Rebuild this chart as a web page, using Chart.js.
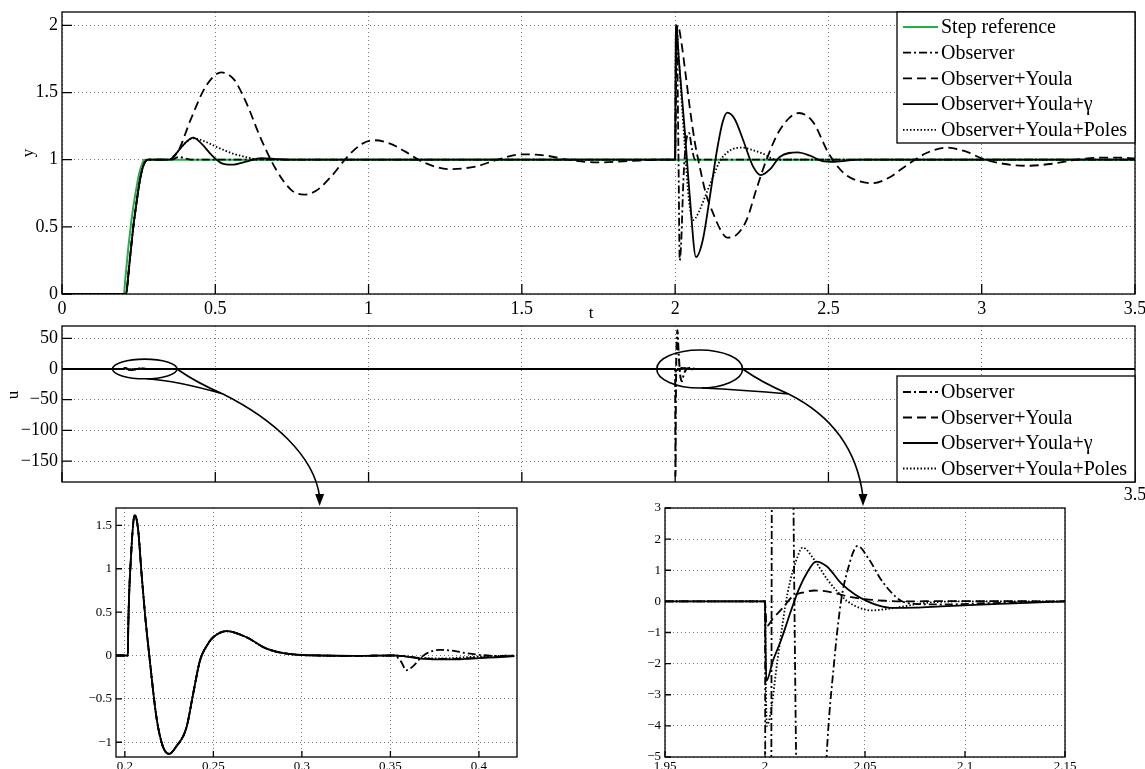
<!DOCTYPE html>
<html lang="en">
<head>
<meta charset="UTF-8">
<title>Step response and control effort</title>
<script src="https://cdn.jsdelivr.net/npm/chart.js@4.4.0/dist/chart.umd.min.js"></script>
<style>
  body { margin: 0; background: #fff; }
  #wrap { position: relative; width: 1145px; height: 769px; overflow: hidden; background: #fff; }
  canvas { position: absolute; }
  .lbl { position: absolute; font-family: "Liberation Serif", serif; font-size: 17px; color: #000;
         transform: translate(-50%, -50%); white-space: nowrap; }
</style>
</head>
<body>
<div id="wrap">
  <canvas id="cTop" width="1145" height="320" style="left:0;top:0"></canvas>
  <canvas id="cMid" width="1145" height="186" style="left:0;top:320px"></canvas>
  <canvas id="cA" width="470" height="269" style="left:60px;top:500px"></canvas>
  <canvas id="cB" width="535" height="269" style="left:610px;top:500px"></canvas>
  <canvas id="ov" width="1145" height="769" style="left:0;top:0;pointer-events:none"></canvas>
  <div class="lbl" style="left:591px;top:313px">t</div>
  <div class="lbl" style="left:28px;top:153px;transform:translate(-50%,-50%) rotate(-90deg)">y</div>
  <div class="lbl" style="left:13px;top:395px;transform:translate(-50%,-50%) rotate(-90deg)">u</div>
</div>

<script>
// ticks
const xTicksTop = [0, 0.5, 1, 1.5, 2, 2.5, 3, 3.5];
const yTicksTop = [0, 0.5, 1, 1.5, 2];
const yTicksMid = [-150, -100, -50, 0, 50];
const xLabelsMid = ['', '', '', '', '', '', '', '3.5'];
const xTicksA = [0.2, 0.25, 0.3, 0.35, 0.4];
const yTicksA = [-1, -0.5, 0, 0.5, 1, 1.5];
const xTicksB = [1.95, 2, 2.05, 2.1, 2.15];
const yTicksB = [-5, -4, -3, -2, -1, 0, 1, 2, 3];

const names = ['Step reference', 'Observer', 'Observer+Youla', 'Observer+Youla+\u03b3', 'Observer+Youla+Poles'];

// top plot: output y(t)
const tRef = [0, 0.202, 0.206, 0.211, 0.217, 0.224, 0.232, 0.2435, 0.252, 0.26, 0.268, 3.5];
const yRef = [0, 0, 0.1, 0.22, 0.36, 0.5, 0.64, 0.8, 0.9, 0.96, 1, 1];

// rise shared by the four controllers
const tRise = [0, 0.209, 0.213, 0.218, 0.225, 0.2326, 0.24, 0.248, 0.2543, 0.262, 0.27, 0.281];
const yRise = [0, 0, 0.06, 0.18, 0.34, 0.5, 0.63, 0.76, 0.85, 0.93, 0.98, 1];

const tObsEnd = [0.35, 0.365, 0.38, 0.395, 0.41, 0.43, 2.0, 2.002, 2.004, 2.007, 2.011, 2.015, 2.02, 2.027, 2.035, 2.045, 2.055, 2.065, 2.08, 3.5];
const yObsEnd = [1, 1.005, 1.02, 1.015, 1.005, 1, 1, 1.7, 2.0, 1.75, 1.0, 0.25, 0.4, 0.85, 1.12, 1.2, 1.08, 1.0, 1.0, 1];

const tYouEnd = [0.35, 0.38, 0.42, 0.47, 0.52, 0.56, 0.6, 0.65, 0.7, 0.75, 0.79, 0.83, 0.88, 0.93, 0.98, 1.02, 1.07, 1.12, 1.18, 1.265,
                 1.35, 1.42, 1.5, 1.58, 1.65, 1.745, 1.85, 1.95, 2.0, 2.004, 2.009, 2.02, 2.035, 2.05, 2.065, 2.08, 2.1, 2.124, 2.15, 2.17,
                 2.2, 2.233, 2.265, 2.298, 2.341, 2.404, 2.45, 2.5, 2.55, 2.6, 2.645, 2.7, 2.75, 2.82, 2.885, 2.95, 3.0, 3.07, 3.15, 3.23,
                 3.31, 3.38, 3.45, 3.5];
const yYouEnd = [1, 1.07, 1.3, 1.55, 1.65, 1.6, 1.43, 1.15, 0.92, 0.77, 0.74, 0.77, 0.88, 1.02, 1.12, 1.145, 1.12, 1.06, 0.98, 0.93,
                 0.95, 1.0, 1.04, 1.03, 1.0, 0.98, 0.99, 1.0, 1.0, 1.8, 2.0, 1.88, 1.62, 1.35, 1.12, 0.95, 0.75, 0.6, 0.47, 0.42,
                 0.44, 0.55, 0.78, 1.0, 1.22, 1.348, 1.28, 1.05, 0.9, 0.84, 0.825, 0.87, 0.95, 1.05, 1.09, 1.06, 1.01, 0.97, 0.955, 0.97,
                 1.0, 1.015, 1.015, 1.01];

const tGamEnd = [0.35, 0.37, 0.4, 0.428, 0.455, 0.49, 0.52, 0.555, 0.6, 0.65, 0.7, 0.75, 2.0, 2.002, 2.004, 2.012, 2.032, 2.048, 2.068, 2.09,
                 2.113, 2.135, 2.155, 2.17, 2.195, 2.222, 2.254, 2.28, 2.31, 2.341, 2.4, 2.44, 2.48, 2.52, 2.6, 3.5];
const yGamEnd = [1, 1.04, 1.12, 1.165, 1.12, 1.03, 0.975, 0.963, 0.985, 1.012, 1.005, 1, 1, 1.9, 2.0, 1.75, 1.2, 0.72, 0.275, 0.4,
                 0.72, 1.05, 1.28, 1.35, 1.3, 1.145, 0.95, 0.885, 0.93, 1.02, 1.055, 1.03, 0.99, 0.985, 1, 1];

const tPolEnd = [0.35, 0.37, 0.4, 0.428, 0.45, 0.472, 0.5, 0.53, 0.558, 0.6, 0.646, 2.0, 2.002, 2.004, 2.012, 2.03, 2.045, 2.059, 2.075, 2.102,
                 2.125, 2.146, 2.18, 2.22, 2.255, 2.286, 2.33, 2.4, 3.5];
const yPolEnd = [1, 1.04, 1.12, 1.16, 1.15, 1.13, 1.1, 1.07, 1.045, 1.02, 1.0, 1, 1.9, 2.0, 1.75, 1.15, 0.7, 0.55, 0.6, 0.75,
                 0.88, 0.99, 1.07, 1.09, 1.07, 1.045, 1.0, 1.0, 1];

// control u(t), window around the step (0.195 - 0.42)
const tA = [0.195, 0.2017, 0.2019, 0.2035, 0.2056, 0.2075, 0.2094, 0.2115, 0.2138, 0.2179, 0.2215, 0.225, 0.229, 0.2348, 0.2385,
            0.2424, 0.2465, 0.2499, 0.2574, 0.2687, 0.28, 0.2951, 0.31, 0.33, 0.352];
const uA = [0, 0, 0.3, 1.15, 1.62, 1.45, 0.95, 0.45, 0, -0.72, -1.05, -1.134, -1.05, -0.83, -0.45,
            -0.06, 0.12, 0.21, 0.28, 0.21, 0.08, 0.012, 0, -0.005, 0];
const tTailA = [0.356, 0.359, 0.363, 0.367, 0.371, 0.378, 0.385, 0.392, 0.4, 0.41, 0.42];
const uObsTailA = [-0.07, -0.17, -0.12, -0.03, 0.03, 0.065, 0.055, 0.03, 0.008, -0.005, 0];
const uYouTailA = [-0.005, -0.01, -0.02, -0.03, -0.035, -0.04, -0.04, -0.035, -0.025, -0.015, -0.005];
const uGamTailA = [-0.005, -0.012, -0.025, -0.035, -0.04, -0.045, -0.045, -0.04, -0.03, -0.02, -0.008];
const uPolTailA = [-0.005, -0.01, -0.02, -0.028, -0.032, -0.035, -0.03, -0.02, -0.012, -0.005, 0];

// control u(t), window around the disturbance (1.95 - 2.15)
const tObsB = [1.95, 2.0, 2.0004, 2.0012, 2.0022, 2.0033, 2.0055, 2.0075, 2.0105, 2.0147, 2.018, 2.022, 2.026, 2.0308, 2.0345,
               2.038, 2.0413, 2.0463, 2.052, 2.058, 2.063, 2.068, 2.075, 2.09, 2.11, 2.15];
const uObsB = [0, 0, -40, -175, -60, 0, 50, 63, 35, 0, -15, -20, -13, -5, -2,
               0, 1.0, 1.78, 1.35, 0.7, 0.3, 0.02, -0.08, -0.1, -0.06, 0];
const tYouB = [1.95, 2.0, 2.0008, 2.004, 2.009, 2.0138, 2.02, 2.0247, 2.03, 2.036, 2.042, 2.05, 2.06, 2.07, 2.09, 2.15];
const uYouB = [0, 0, -0.8, -0.55, -0.2, 0.16, 0.3, 0.35, 0.33, 0.25, 0.15, 0.07, 0.02, 0, 0.01, 0];
const tGamB = [1.95, 2.0, 2.0003, 2.0007, 2.004, 2.008, 2.013, 2.017, 2.0213, 2.0255, 2.031, 2.038, 2.045, 2.0513, 2.057,
               2.063, 2.075, 2.088, 2.105, 2.121, 2.15];
const uGamB = [0, 0, -1.5, -2.55, -1.9, -1.25, -0.3, 0.4, 0.95, 1.28, 1.12, 0.585, 0.22, 0, -0.14,
               -0.21, -0.2, -0.16, -0.11, -0.07, 0];
const tPolB = [1.95, 2.0, 2.0004, 2.0009, 2.003, 2.0063, 2.0113, 2.0163, 2.0188, 2.0247, 2.0313, 2.0413, 2.047, 2.053, 2.0647, 2.08, 2.1, 2.15];
const uPolB = [0, 0, -2.5, -4.0, -3.5, -1.86, 0.27, 1.44, 1.73, 1.33, 0.69, 0, -0.2, -0.29, -0.21, -0.05, 0, 0];

const serif = '"Liberation Serif", "Times New Roman", serif';
const green = '#22b04b';
const styles = [
  { color: green, dash: [] },
  { color: '#000', dash: [8, 3, 2, 3] },
  { color: '#000', dash: [9, 5] },
  { color: '#000', dash: [] },
  { color: '#000', dash: [1.5, 2] }
];

function pts(ts, ys) { return ts.map((t, i) => ({ x: t, y: ys[i] })); }
function fmt(v) { return (v < 0 ? '\u2212' : '') + Math.abs(v); }

function line(i, data, w) {
  return {
    label: names[i], data: data, borderColor: styles[i].color, borderDash: styles[i].dash,
    borderWidth: w, pointRadius: 0, fill: false, cubicInterpolationMode: 'monotone',
    order: i === 0 ? 1 : 0
  };
}

const framePlugin = {
  id: 'frame',
  afterDatasetsDraw(chart, args, o) {
    const { ctx, chartArea: a, scales } = chart;
    ctx.save();
    ctx.strokeStyle = '#000';
    ctx.lineWidth = o.lw;
    ctx.setLineDash([]);
    ctx.beginPath();
    scales.x.ticks.forEach(t => {
      const x = scales.x.getPixelForValue(t.value);
      ctx.moveTo(x, a.bottom); ctx.lineTo(x, a.bottom - o.len);
    });
    scales.y.ticks.forEach(t => {
      const y = scales.y.getPixelForValue(t.value);
      ctx.moveTo(a.left, y); ctx.lineTo(a.left + o.len, y);
    });
    ctx.stroke();
    ctx.strokeRect(a.left, a.top, a.width, a.height);
    ctx.restore();
  }
};

const legendPlugin = {
  id: 'boxLegend',
  afterDraw(chart, args, o) {
    const { ctx, chartArea: a } = chart;
    const x0 = a.right - o.w, y0 = a.top + o.dy;
    ctx.save();
    ctx.fillStyle = '#fff';
    ctx.fillRect(x0, y0, o.w, o.h);
    ctx.strokeStyle = '#000';
    ctx.lineWidth = 1.3;
    ctx.setLineDash([]);
    ctx.strokeRect(x0, y0, o.w, o.h);
    ctx.font = '20px ' + serif;
    ctx.textBaseline = 'middle';
    chart.data.datasets.forEach((ds, i) => {
      const y = y0 + o.first + i * o.row;
      ctx.strokeStyle = ds.borderColor;
      ctx.lineWidth = 1.8;
      ctx.setLineDash(ds.borderDash || []);
      ctx.beginPath(); ctx.moveTo(x0 + 6, y); ctx.lineTo(x0 + 41, y); ctx.stroke();
      ctx.fillStyle = '#000';
      ctx.fillText(ds.label, x0 + 44, y + 1);
    });
    ctx.restore();
  }
};

function makeChart(id, datasets, c) {
  const axisFont = { family: serif, size: c.fs };
  return new Chart(document.getElementById(id), {
    type: 'line',
    data: { datasets: datasets },
    options: {
      responsive: false, animation: false, parsing: true,
      layout: { padding: c.pad },
      plugins: {
        legend: { display: false }, tooltip: { enabled: false },
        frame: { lw: 1.3, len: c.tick },
        boxLegend: c.legend || false
      },
      scales: {
        x: {
          type: 'linear', min: c.xmin, max: c.xmax,
          afterBuildTicks: s => { s.ticks = c.xt.map(v => ({ value: v })); },
          afterFit: s => { s.height = c.xh; s.paddingLeft = 0; s.paddingRight = 0; },
          ticks: { autoSkip: false, maxRotation: 0, minRotation: 0, padding: c.xpad, color: '#000', font: axisFont,
                   callback: (v, i) => c.xl ? c.xl[i] : fmt(v) },
          grid: { color: '#7a7a7a', lineWidth: 1, drawTicks: false },
          border: { display: false, dash: [1, 3] }
        },
        y: {
          type: 'linear', min: c.ymin, max: c.ymax,
          afterBuildTicks: s => { s.ticks = c.yt.map(v => ({ value: v })); },
          afterFit: s => { s.width = c.yw; s.paddingTop = 0; s.paddingBottom = 0; },
          ticks: { autoSkip: false, padding: 4, color: '#000', font: axisFont, callback: v => fmt(v) },
          grid: { color: '#7a7a7a', lineWidth: 1, drawTicks: false },
          border: { display: false, dash: [1, 3] }
        }
      }
    },
    plugins: c.legend ? [framePlugin, legendPlugin] : [framePlugin]
  });
}

// series for each controller
const ctrl = [
  { tEnd: tObsEnd, yEnd: yObsEnd, tailA: uObsTailA, tB: tObsB, uB: uObsB },
  { tEnd: tYouEnd, yEnd: yYouEnd, tailA: uYouTailA, tB: tYouB, uB: uYouB },
  { tEnd: tGamEnd, yEnd: yGamEnd, tailA: uGamTailA, tB: tGamB, uB: uGamB },
  { tEnd: tPolEnd, yEnd: yPolEnd, tailA: uPolTailA, tB: tPolB, uB: uPolB }
];

const topSets = [line(0, pts(tRef, yRef), 2)].concat(
  ctrl.map((s, k) => line(k + 1, pts(tRise.concat(s.tEnd), yRise.concat(s.yEnd)), 1.8)));

const midSets = ctrl.map((s, k) => line(k + 1,
  [{ x: 0, y: 0 }].concat(pts(tA.concat(tTailA), uA.concat(s.tailA)), pts(s.tB, s.uB), [{ x: 3.5, y: 0 }]), 2));

const setsA = ctrl.map((s, k) => line(k + 1, pts(tA.concat(tTailA), uA.concat(s.tailA)), 1.8));
const setsB = ctrl.map((s, k) => line(k + 1, pts(s.tB, s.uB), 1.8));

const topChart = makeChart('cTop', topSets, {
  xmin: 0, xmax: 3.5, ymin: 0, ymax: 2.1, xt: xTicksTop, yt: yTicksTop, fs: 18,
  pad: { top: 12, right: 10, left: 0, bottom: 0 }, yw: 62, xh: 26, xpad: 4, tick: 10,
  legend: { w: 238, h: 131, dy: 0, first: 15, row: 25.7 }
});

const midChart = makeChart('cMid', midSets, {
  xmin: 0, xmax: 3.5, ymin: -184, ymax: 70, xt: xTicksTop, yt: yTicksMid, xl: xLabelsMid, fs: 18,
  pad: { top: 6, right: 10, left: 0, bottom: 0 }, yw: 62, xh: 24, xpad: 2, tick: 10,
  legend: { w: 238, h: 106, dy: 50, first: 16, row: 25.5 }
});

const chartA = makeChart('cA', setsA, {
  xmin: 0.195, xmax: 0.4215, ymin: -1.17, ymax: 1.7, xt: xTicksA, yt: yTicksA, fs: 13,
  pad: { top: 8, right: 13, left: 0, bottom: 0 }, yw: 56, xh: 12, xpad: 2, tick: 6
});

const chartB = makeChart('cB', setsB, {
  xmin: 1.95, xmax: 2.15, ymin: -5, ymax: 3, xt: xTicksB, yt: yTicksB, fs: 13,
  pad: { top: 8, right: 80, left: 0, bottom: 0 }, yw: 55, xh: 12, xpad: 2, tick: 6
});

// zoom marks: ellipses on the u plot, arrows down to the insets
const zoomMarks = [
  { t: 0.27, u: 0, rt: 0.105, ru: 16, inset: chartA, el: 'cA', at: 0.31 },
  { t: 2.08, u: 0, rt: 0.14, ru: 31, inset: chartB, el: 'cB', at: 2.049 }
];

function drawZoomMarks() {
  const ctx = document.getElementById('ov').getContext('2d');
  const mc = document.getElementById('cMid');
  const xs = midChart.scales.x, ys = midChart.scales.y;
  ctx.strokeStyle = '#000';
  ctx.fillStyle = '#000';
  ctx.lineWidth = 1.6;
  zoomMarks.forEach(m => {
    const cx = mc.offsetLeft + xs.getPixelForValue(m.t);
    const cy = mc.offsetTop + ys.getPixelForValue(m.u);
    const rx = xs.getPixelForValue(m.t + m.rt) - xs.getPixelForValue(m.t);
    const ry = ys.getPixelForValue(m.u - m.ru) - ys.getPixelForValue(m.u);
    ctx.beginPath();
    ctx.ellipse(cx, cy, rx, ry, 0, 0, Math.PI * 2);
    ctx.stroke();

    const ic = document.getElementById(m.el);
    const tx = ic.offsetLeft + m.inset.scales.x.getPixelForValue(m.at);
    const ty = ic.offsetTop + m.inset.chartArea.top - 2;
    const jx = cx + rx + 46, jy = cy + 25;
    ctx.beginPath();
    ctx.moveTo(cx + rx, cy);
    ctx.quadraticCurveTo(cx + rx + 20, cy + 14, jx, jy);
    ctx.moveTo(cx + 2, cy + ry);
    ctx.quadraticCurveTo(cx + rx, cy + ry + 2, jx, jy);
    ctx.bezierCurveTo(jx + 50, jy + 25, tx - 5, ty - 50, tx, ty - 9);
    ctx.stroke();
    ctx.beginPath();
    ctx.moveTo(tx, ty);
    ctx.lineTo(tx - 4.5, ty - 12);
    ctx.lineTo(tx + 4.5, ty - 12);
    ctx.closePath();
    ctx.fill();
  });
}
drawZoomMarks();
</script>
</body>
</html>
